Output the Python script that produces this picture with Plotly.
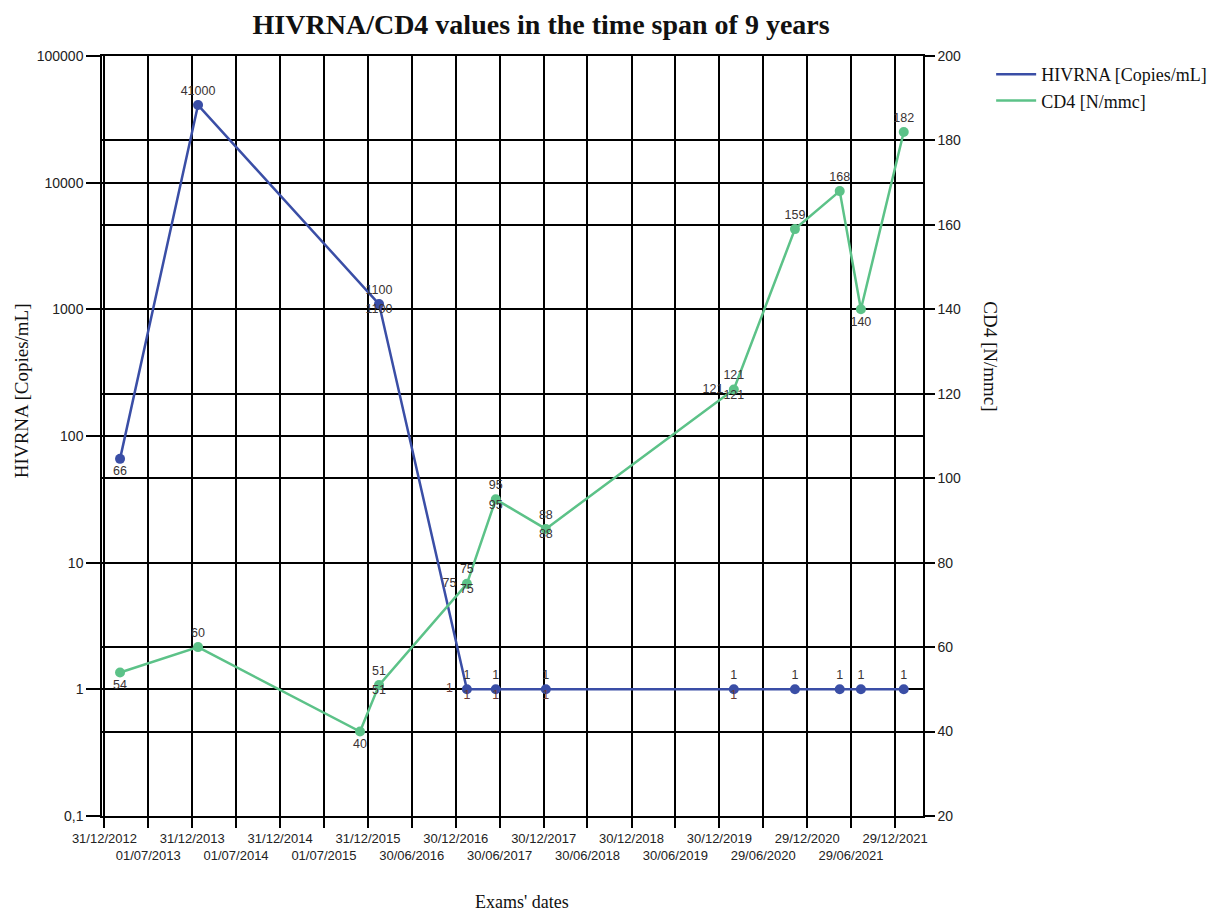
import plotly.graph_objects as go
from datetime import datetime

# ---- data ----
tick_labels = ["31/12/2012", "01/07/2013", "31/12/2013", "01/07/2014", "31/12/2014",
               "01/07/2015", "31/12/2015", "30/06/2016", "30/12/2016", "30/06/2017",
               "30/12/2017", "30/06/2018", "30/12/2018", "30/06/2019", "30/12/2019",
               "29/06/2020", "29/12/2020", "29/06/2021", "29/12/2021"]

hiv_dates = ["2013-03-06", "2014-01-24", "2016-02-15", "2017-02-14", "2017-06-14",
             "2018-01-08", "2020-02-28", "2020-11-08", "2021-05-13", "2021-08-09",
             "2022-02-03"]
hiv_values = [66, 41000, 1100, 1, 1, 1, 1, 1, 1, 1, 1]

cd4_dates = ["2013-03-06", "2014-01-24", "2015-11-28", "2016-02-15", "2017-02-14",
             "2017-06-14", "2018-01-08", "2020-02-28", "2020-11-08", "2021-05-13",
             "2021-08-09", "2022-02-03"]
cd4_values = [54, 60, 40, 51, 75, 95, 88, 121, 159, 168, 140, 182]

# label positions (primary) and duplicated labels
hiv_label_pos = ["bottom center", "top center", "top center", "top center", "top center",
                 "top center", "top center", "top center", "top center", "top center",
                 "top center"]
hiv_below_idx = [2, 3, 4, 5, 6]
hiv_left_idx = [3]

cd4_label_pos = ["bottom center", "top center", "bottom center", "top center", "top center",
                 "top center", "top center", "top center", "top center", "top center",
                 "bottom center", "top center"]
cd4_below_idx = [3, 4, 5, 6, 7]
cd4_left_idx = [4, 7]

y_left_ticks = [0.1, 1, 10, 100, 1000, 10000, 100000]
y_left_text = ["0,1", "1", "10", "100", "1000", "10000", "100000"]

BLUE = "#3a4ea6"
GREEN = "#5cc288"
LBL = "#3a3333"
LBL_RED = "#6a3a33"

tick_vals = [datetime.strptime(t, "%d/%m/%Y").strftime("%Y-%m-%d") for t in tick_labels]
tick_text = [t if i % 2 == 0 else "<br>" + t for i, t in enumerate(tick_labels)]

lblfont = dict(family="Liberation Sans, Arial", size=12.5, color=LBL)
below_colors = [LBL if hiv_values[i] > 1 else LBL_RED for i in hiv_below_idx]

fig = go.Figure()

fig.add_trace(go.Scatter(x=hiv_dates, y=hiv_values, mode="lines+markers+text",
                         line=dict(color=BLUE, width=2.5), marker=dict(color=BLUE, size=10),
                         text=[str(v) for v in hiv_values], textposition=hiv_label_pos,
                         textfont=lblfont, showlegend=False, cliponaxis=False))
fig.add_trace(go.Scatter(x=[hiv_dates[i] for i in hiv_below_idx],
                         y=[hiv_values[i] for i in hiv_below_idx], mode="text",
                         text=[str(hiv_values[i]) for i in hiv_below_idx],
                         textposition="bottom center",
                         textfont=dict(family="Liberation Sans, Arial", size=12.5, color=below_colors),
                         showlegend=False))
fig.add_trace(go.Scatter(x=[hiv_dates[i] for i in hiv_left_idx],
                         y=[hiv_values[i] for i in hiv_left_idx], mode="text",
                         text=[str(hiv_values[i]) + "    " for i in hiv_left_idx],
                         textposition="middle left",
                         textfont=dict(family="Liberation Sans, Arial", size=12.5, color=LBL_RED),
                         showlegend=False))

fig.add_trace(go.Scatter(x=cd4_dates, y=cd4_values, mode="lines+markers+text", yaxis="y2",
                         line=dict(color=GREEN, width=2.5), marker=dict(color=GREEN, size=10),
                         text=[str(v) for v in cd4_values], textposition=cd4_label_pos,
                         textfont=lblfont, showlegend=False, cliponaxis=False))
fig.add_trace(go.Scatter(x=[cd4_dates[i] for i in cd4_below_idx],
                         y=[cd4_values[i] for i in cd4_below_idx], mode="text", yaxis="y2",
                         text=[str(cd4_values[i]) for i in cd4_below_idx],
                         textposition="bottom center", textfont=lblfont, showlegend=False))
fig.add_trace(go.Scatter(x=[cd4_dates[i] for i in cd4_left_idx],
                         y=[cd4_values[i] for i in cd4_left_idx], mode="text", yaxis="y2",
                         text=[str(cd4_values[i]) + "   " for i in cd4_left_idx],
                         textposition="middle left", textfont=lblfont, showlegend=False))

# legend entries (lines only)
fig.add_trace(go.Scatter(x=[None], y=[None], mode="lines", name="HIVRNA [Copies/mL]",
                         line=dict(color=BLUE, width=2.5)))
fig.add_trace(go.Scatter(x=[None], y=[None], mode="lines", name="CD4 [N/mmc]",
                         line=dict(color=GREEN, width=2.5)))

serif = "Liberation Serif, Times New Roman, serif"
tickfont = dict(family="Liberation Sans, Arial", size=14, color="#222")

fig.update_layout(
    width=1220, height=913,
    margin=dict(l=94, r=305, t=48, b=105),
    paper_bgcolor="white", plot_bgcolor="white",
    title=dict(text="<b>HIVRNA/CD4 values in the time span of 9 years</b>",
               x=0.437, xanchor="center", y=0.982, yanchor="middle",
               font=dict(family=serif, size=28, color="#111")),
    xaxis=dict(type="date", range=["2012-12-21", "2022-04-24"],
               tickvals=tick_vals, ticktext=tick_text, tickangle=0,
               tickfont=dict(family="Liberation Sans, Arial", size=13, color="#222"),
               ticks="outside", ticklen=10, tickcolor="black", tickwidth=1.5,
               showgrid=True, gridcolor="black", gridwidth=1.5,
               showline=True, linecolor="black", linewidth=1.5, mirror=True,
               zeroline=False),
    yaxis=dict(type="log", range=[-1, 5], tickvals=y_left_ticks, ticktext=y_left_text,
               tickfont=tickfont, ticks="outside", ticklen=14, tickcolor="black", tickwidth=1.5,
               showgrid=True, gridcolor="black", gridwidth=1.5,
               showline=True, linecolor="black", linewidth=1.5, zeroline=False),
    yaxis2=dict(overlaying="y", side="right", range=[20, 200], dtick=20, tick0=20,
                tickfont=tickfont, ticks="outside", ticklen=10, tickcolor="black", tickwidth=1.5,
                showgrid=True, gridcolor="black", gridwidth=1.5,
                showline=True, linecolor="black", linewidth=1.5, zeroline=False),
    legend=dict(x=1.083, y=1.0, xanchor="left", yanchor="top",
                font=dict(family=serif, size=18, color="#111"),
                bgcolor="rgba(0,0,0,0)", tracegroupgap=0, itemwidth=40),
    showlegend=True,
    annotations=[
        dict(text="HIVRNA [Copies/mL]", xref="paper", yref="paper",
             x=-0.113, y=0.56, textangle=-90, showarrow=False,
             font=dict(family=serif, size=19, color="#111")),
        dict(text="CD4 [N/mmc]", xref="paper", yref="paper",
             x=1.098, y=0.605, textangle=90, showarrow=False,
             font=dict(family=serif, size=19, color="#111")),
        dict(text="Exams' dates", xref="paper", yref="paper",
             x=0.512, y=-0.129, showarrow=False,
             font=dict(family=serif, size=18, color="#111")),
    ],
)

fig.write_html("out.html")
